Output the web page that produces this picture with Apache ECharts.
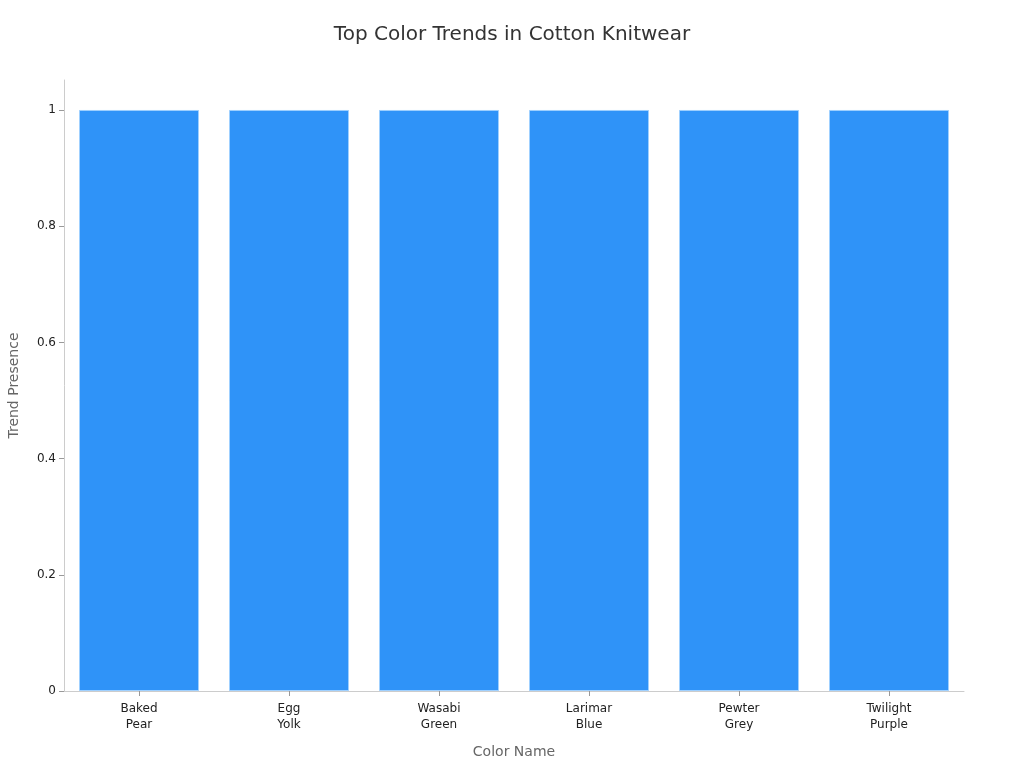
<!DOCTYPE html>
<html><head><meta charset="utf-8">
<script src="https://cdn.jsdelivr.net/npm/echarts@6/dist/echarts.min.js"></script>
<style>html,body{margin:0;padding:0;background:#fff}#c{width:1024px;height:768px}</style>
</head><body><div id="c"></div>
<script>
const categories = ["Baked\nPear", "Egg\nYolk", "Wasabi\nGreen", "Larimar\nBlue", "Pewter\nGrey", "Twilight\nPurple"];
const trendPresence = [1, 1, 1, 1, 1, 1];
const yTicks = [0, 0.2, 0.4, 0.6, 0.8, 1];

const chart = echarts.init(document.getElementById('c'));
chart.setOption({
  textStyle: { fontFamily: 'DejaVu Sans' },
  title: {
    text: 'Top Color Trends in Cotton Knitwear',
    left: 'center', top: 20,
    textStyle: { fontSize: 20, fontWeight: 'normal', color: '#333', fontFamily: 'DejaVu Sans' }
  },
  grid: { left: 64, right: 60, top: 80, bottom: 77, containLabel: false, outerBoundsMode: 'none' },
  xAxis: {
    type: 'category',
    data: categories,
    name: 'Color Name',
    nameLocation: 'middle',
    nameGap: 54,
    nameTextStyle: { fontSize: 14, color: '#666' },
    axisLine: { lineStyle: { color: '#ccc' } },
    axisTick: { show: true, alignWithLabel: true, length: 5, lineStyle: { color: '#999' } },
    axisLabel: { color: '#222', fontSize: 12, lineHeight: 16, margin: 10 }
  },
  yAxis: {
    type: 'value',
    min: 0, max: 1.0516,
    interval: 0.2,
    name: 'Trend Presence',
    nameLocation: 'middle',
    nameGap: 43,
    nameTextStyle: { fontSize: 14, color: '#666' },
    axisLine: { show: true, lineStyle: { color: '#ccc' } },
    axisTick: { show: true, length: 5, customValues: yTicks, lineStyle: { color: '#999' } },
    splitLine: { show: false },
    axisLabel: {
      color: '#222', fontSize: 12, margin: 8, padding: [2, 0, 0, 0],
      customValues: yTicks,
      formatter: v => String(+(+v).toFixed(1))
    }
  },
  series: [{
    type: 'bar',
    data: trendPresence,
    barCategoryGap: '20%',
    itemStyle: { color: '#2f93f8', borderColor: '#9fd0ff', borderWidth: 1 }
  }]
});
</script></body></html>
